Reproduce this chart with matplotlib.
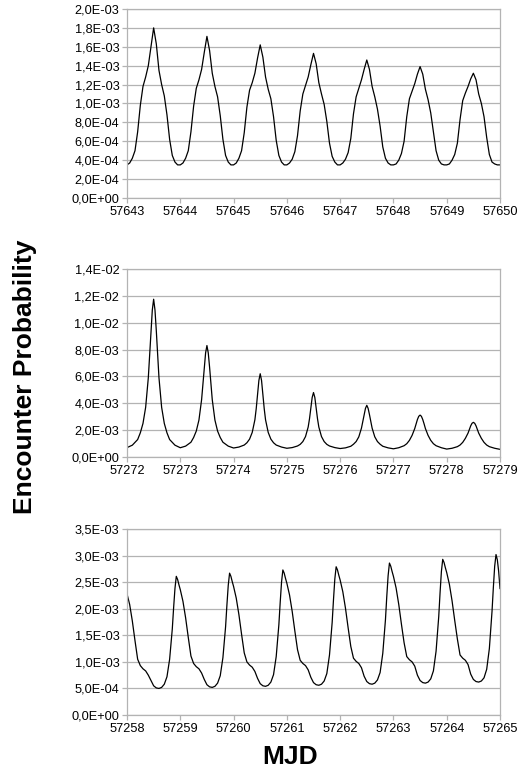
import numpy as np
import matplotlib.pyplot as plt

plt.rcParams['font.family'] = ['Liberation Sans', 'DejaVu Sans']

# ---- panel 1 (top): values in units of 1e-4 ----
days1 = [57643, 57644, 57645, 57646, 57647, 57648, 57649]
offs1 = [0, .05, .1, .15, .2, .25, .3, .35, .4, .45, .5, .55, .6, .65, .7, .75, .8, .85, .9, .95]
rows1 = [
    [3.5, 3.7, 4.2, 5.0, 7.0, 9.8, 11.8, 12.8, 14.0, 16.0, 18.0, 16.3, 13.5, 12.0, 10.8, 8.8, 6.2, 4.5, 3.8, 3.5],
    [3.5, 3.7, 4.2, 5.0, 7.0, 9.7, 11.6, 12.5, 13.6, 15.4, 17.1, 15.6, 13.2, 11.8, 10.7, 8.7, 6.2, 4.5, 3.8, 3.5],
    [3.5, 3.7, 4.2, 5.0, 6.9, 9.6, 11.4, 12.2, 13.2, 14.8, 16.2, 14.9, 12.8, 11.5, 10.5, 8.6, 6.1, 4.5, 3.8, 3.5],
    [3.5, 3.7, 4.1, 4.9, 6.6, 9.2, 11.0, 11.9, 12.8, 14.1, 15.3, 14.2, 12.2, 11.0, 9.9, 8.1, 5.8, 4.4, 3.8, 3.5],
    [3.5, 3.7, 4.1, 4.8, 6.3, 8.9, 10.7, 11.6, 12.5, 13.6, 14.6, 13.6, 11.8, 10.7, 9.4, 7.6, 5.4, 4.2, 3.7, 3.5],
    [3.5, 3.6, 4.0, 4.7, 6.0, 8.6, 10.5, 11.3, 12.1, 13.1, 13.9, 13.1, 11.5, 10.4, 9.0, 7.0, 5.0, 4.0, 3.6, 3.5],
    [3.5, 3.6, 4.0, 4.6, 5.8, 8.3, 10.3, 11.1, 11.8, 12.6, 13.2, 12.5, 11.0, 10.0, 8.6, 6.4, 4.6, 3.8, 3.6, 3.5],
]
end1 = (57650, 3.5)

# ---- panel 2 (middle): values in units of 1e-3 ----
days2 = [57272, 57273, 57274, 57275, 57276, 57277, 57278]
offs2 = [0, .1, .2, .25, .3, .35, .4, .425, .45, .475, .5, .525, .55, .575, .6, .65, .7, .75, .8, .9]
rows2 = [
    [0.70, 0.88, 1.30, 1.80, 2.50, 3.70, 5.90, 7.60, 9.40, 10.95, 11.75, 10.95, 9.40, 7.60, 5.90, 3.70, 2.50, 1.80, 1.30, 0.88],
    [0.69, 0.81, 1.10, 1.45, 1.93, 2.75, 4.27, 5.44, 6.68, 7.75, 8.30, 7.75, 6.68, 5.44, 4.27, 2.75, 1.93, 1.45, 1.10, 0.81],
    [0.67, 0.74, 0.89, 1.06, 1.33, 1.83, 2.77, 3.60, 4.65, 5.70, 6.20, 5.70, 4.65, 3.60, 2.77, 1.83, 1.33, 1.06, 0.89, 0.74],
    [0.65, 0.70, 0.82, 0.94, 1.15, 1.52, 2.23, 2.85, 3.64, 4.43, 4.80, 4.43, 3.64, 2.85, 2.23, 1.52, 1.15, 0.94, 0.82, 0.70],
    [0.63, 0.68, 0.80, 0.95, 1.15, 1.50, 2.15, 2.64, 3.16, 3.62, 3.85, 3.62, 3.16, 2.64, 2.15, 1.50, 1.15, 0.95, 0.80, 0.68],
    [0.61, 0.69, 0.84, 0.99, 1.24, 1.61, 2.12, 2.47, 2.79, 3.03, 3.12, 3.03, 2.79, 2.47, 2.12, 1.61, 1.24, 0.99, 0.84, 0.69],
    [0.59, 0.65, 0.77, 0.89, 1.09, 1.39, 1.78, 2.06, 2.32, 2.51, 2.58, 2.51, 2.32, 2.06, 1.78, 1.39, 1.09, 0.89, 0.77, 0.65],
]
end2 = (57279, 0.57)

# ---- panel 3 (bottom): values in units of 1e-3 ----
days3 = [57258, 57259, 57260, 57261, 57262, 57263, 57264]
offs3 = [0, .05, .1, .15, .2, .25, .3, .35, .4, .45, .5, .55, .6, .65, .7, .75, .8, .85, .875, .9, .925, .95, .975]
rows3 = [
    [2.28, 2.08, 1.77, 1.40, 1.05, 0.93, 0.87, 0.83, 0.75, 0.65, 0.55, 0.51, 0.50, 0.52, 0.58, 0.72, 1.05, 1.62, 2.02, 2.38, 2.61, 2.55, 2.45],
    [2.36, 2.14, 1.83, 1.46, 1.11, 0.97, 0.91, 0.87, 0.79, 0.67, 0.57, 0.53, 0.52, 0.54, 0.60, 0.74, 1.08, 1.66, 2.07, 2.44, 2.67, 2.61, 2.51],
    [2.42, 2.20, 1.89, 1.52, 1.17, 1.00, 0.94, 0.90, 0.82, 0.69, 0.59, 0.55, 0.54, 0.56, 0.62, 0.76, 1.10, 1.70, 2.12, 2.50, 2.73, 2.67, 2.57],
    [2.48, 2.26, 1.95, 1.58, 1.23, 1.03, 0.97, 0.93, 0.85, 0.71, 0.61, 0.57, 0.56, 0.58, 0.64, 0.78, 1.13, 1.74, 2.17, 2.56, 2.79, 2.73, 2.63],
    [2.54, 2.32, 2.01, 1.64, 1.29, 1.07, 1.01, 0.97, 0.89, 0.73, 0.63, 0.59, 0.58, 0.60, 0.66, 0.80, 1.16, 1.79, 2.23, 2.62, 2.86, 2.80, 2.70],
    [2.61, 2.39, 2.08, 1.71, 1.36, 1.10, 1.04, 1.00, 0.92, 0.75, 0.65, 0.61, 0.60, 0.62, 0.68, 0.83, 1.20, 1.85, 2.30, 2.70, 2.93, 2.87, 2.77],
    [2.68, 2.46, 2.15, 1.78, 1.43, 1.13, 1.07, 1.03, 0.95, 0.77, 0.67, 0.63, 0.62, 0.64, 0.70, 0.86, 1.25, 1.95, 2.40, 2.80, 3.02, 2.92, 2.70],
]
end3 = (57265, 2.38)

yt1 = [0, 2e-4, 4e-4, 6e-4, 8e-4, 1e-3, 1.2e-3, 1.4e-3, 1.6e-3, 1.8e-3, 2e-3]
yl1 = ['0,0E+00', '2,0E-04', '4,0E-04', '6,0E-04', '8,0E-04', '1,0E-03',
       '1,2E-03', '1,4E-03', '1,6E-03', '1,8E-03', '2,0E-03']
yt2 = [0, 2e-3, 4e-3, 6e-3, 8e-3, 1e-2, 1.2e-2, 1.4e-2]
yl2 = ['0,0E+00', '2,0E-03', '4,0E-03', '6,0E-03', '8,0E-03', '1,0E-02', '1,2E-02', '1,4E-02']
yt3 = [0, 5e-4, 1e-3, 1.5e-3, 2e-3, 2.5e-3, 3e-3, 3.5e-3]
yl3 = ['0,0E+00', '5,0E-04', '1,0E-03', '1,5E-03', '2,0E-03', '2,5E-03', '3,0E-03', '3,5E-03']


def build(days, offs, rows, end, unit):
    xs, ys = [], []
    for d, r in zip(days, rows):
        for o, v in zip(offs, r):
            xs.append(d + o)
            ys.append(v * unit)
    xs.append(end[0])
    ys.append(end[1] * unit)
    return np.array(xs), np.array(ys)


panels = [
    (build(days1, offs1, rows1, end1, 1e-4), days1 + [end1[0]], yt1, yl1, [0.2419, 0.7439, 0.7105, 0.2445]),
    (build(days2, offs2, rows2, end2, 1e-3), days2 + [end2[0]], yt2, yl2, [0.2419, 0.4088, 0.7105, 0.2432]),
    (build(days3, offs3, rows3, end3, 1e-3), days3 + [end3[0]], yt3, yl3, [0.2419, 0.0750, 0.7105, 0.2406]),
]

grey = '#b3b3b3'
fig = plt.figure(figsize=(5.25, 7.73), dpi=100)
for (x, y), xt, yt, yl, rect in panels:
    ax = fig.add_axes(rect)
    ax.plot(x, y, color='black', lw=0.9)
    ax.set_xlim(xt[0], xt[-1])
    ax.set_ylim(yt[0], yt[-1])
    ax.set_xticks(xt)
    ax.set_xticklabels([str(v) for v in xt])
    ax.set_yticks(yt)
    ax.set_yticklabels(yl)
    ax.yaxis.grid(True, color=grey, lw=0.9)
    ax.set_axisbelow(True)
    for s in ax.spines.values():
        s.set_color(grey)
        s.set_linewidth(0.9)
    ax.tick_params(colors=grey, labelcolor='black', length=3.5, width=0.9, pad=2, labelsize=9.2)

fig.text(0.048, 0.512, 'Encounter Probability', rotation=90, ha='center', va='center',
         fontsize=19, fontweight='bold')
fig.text(0.552, 0.021, 'MJD', ha='center', va='center', fontsize=19, fontweight='bold')

fig.savefig('out.png', dpi=100)
